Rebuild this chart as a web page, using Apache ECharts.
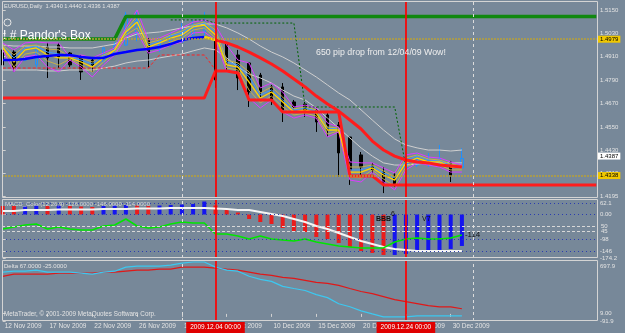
<!DOCTYPE html>
<html><head><meta charset="utf-8">
<script src="https://cdn.jsdelivr.net/npm/echarts@6/dist/echarts.min.js"></script>
<style>html,body{margin:0;padding:0;background:#778899;}#c{width:625px;height:333px;}</style>
</head><body><div id="c"></div>
<script>
const dates = ['12 Nov 2009','13 Nov 2009','15 Nov 2009','16 Nov 2009','17 Nov 2009','18 Nov 2009','19 Nov 2009','20 Nov 2009','22 Nov 2009','23 Nov 2009','24 Nov 2009','25 Nov 2009','26 Nov 2009','27 Nov 2009','29 Nov 2009','30 Nov 2009','1 Dec 2009','2 Dec 2009','3 Dec 2009','4 Dec 2009','6 Dec 2009','7 Dec 2009','8 Dec 2009','9 Dec 2009','10 Dec 2009','11 Dec 2009','13 Dec 2009','14 Dec 2009','15 Dec 2009','16 Dec 2009','17 Dec 2009','18 Dec 2009','20 Dec 2009','21 Dec 2009','22 Dec 2009','23 Dec 2009','24 Dec 2009','27 Dec 2009','28 Dec 2009','29 Dec 2009','30 Dec 2009','31 Dec 2009'];
const open  = [1.4945,1.4934,1.4893,1.4868,1.4960,1.4970,1.4929,1.4909,1.4893,1.4883,1.4929,1.4970,1.5030,1.4996,1.4945,1.4970,1.4986,1.5022,1.5037,1.4996,1.4981,1.4919,1.4878,1.4816,1.4755,1.4755,1.4678,1.4667,1.4637,1.4611,1.4560,1.4498,1.4406,1.4354,1.4318,1.4303,1.4339,1.4354,1.4354,1.4365,1.4370,1.4340];
const close = [1.4868,1.4857,1.4904,1.4960,1.4904,1.4909,1.4868,1.4832,1.4868,1.4955,1.4970,1.5124,1.5090,1.4929,1.4996,1.5022,1.5058,1.5073,1.5088,1.4791,1.4878,1.4801,1.4729,1.4729,1.4688,1.4637,1.4652,1.4626,1.4575,1.4534,1.4416,1.4329,1.4344,1.4329,1.4262,1.4252,1.4380,1.4380,1.4380,1.4390,1.4303,1.4387];
const low   = [1.4842,1.4832,1.4888,1.4857,1.4801,1.4852,1.4857,1.4791,1.4832,1.4878,1.4919,1.4965,1.4990,1.4857,1.4934,1.4960,1.4981,1.5011,1.5011,1.4750,1.4832,1.4739,1.4652,1.4703,1.4662,1.4575,1.4637,1.4601,1.4524,1.4498,1.4293,1.4252,1.4293,1.4313,1.4210,1.4241,1.4329,1.4344,1.4344,1.4344,1.4267,1.4336];
const high  = [1.4960,1.4945,1.4909,1.4970,1.4981,1.4981,1.4934,1.4919,1.4909,1.4960,1.4986,1.5140,1.5140,1.5006,1.5011,1.5037,1.5083,1.5099,1.5140,1.5006,1.4986,1.4945,1.4883,1.4827,1.4765,1.4775,1.4688,1.4678,1.4652,1.4621,1.4575,1.4498,1.4421,1.4365,1.4344,1.4313,1.4395,1.4416,1.4416,1.4457,1.4375,1.4440];

const maLine = [1.4893,1.4893,1.4898,1.4909,1.4914,1.4919,1.4919,1.4909,1.4904,1.4904,1.4924,1.4934,1.4945,1.4950,1.4960,1.4975,1.4996,1.5006,1.5011,1.4996,1.4981,1.4960,1.4934,1.4904,1.4873,1.4837,1.4796,1.4755,1.4708,1.4667,1.4631,1.4585,1.4539,1.4477,1.4431,1.4400,1.4380,1.4370,1.4365,1.4354,1.4349,1.4344];
const maTurn = 18;
const bandUpper = [1.4970,1.4965,1.4965,1.4965,1.4960,1.4960,1.4955,1.4955,1.4955,1.4965,1.4975,1.5006,1.5027,1.5032,1.5037,1.5047,1.5058,1.5068,1.5078,1.5078,1.5058,1.5032,1.5001,1.4965,1.4934,1.4909,1.4878,1.4842,1.4806,1.4765,1.4724,1.4688,1.4637,1.4585,1.4534,1.4488,1.4457,1.4442,1.4431,1.4431,1.4426,1.4431];
const bandLower = [1.4842,1.4842,1.4842,1.4842,1.4837,1.4837,1.4842,1.4842,1.4842,1.4852,1.4862,1.4878,1.4888,1.4893,1.4904,1.4914,1.4924,1.4940,1.4955,1.4945,1.4904,1.4857,1.4821,1.4801,1.4775,1.4739,1.4708,1.4688,1.4647,1.4595,1.4544,1.4493,1.4442,1.4400,1.4365,1.4354,1.4354,1.4359,1.4365,1.4365,1.4365,1.4365];
const magUpper = [1.4981,1.4945,1.4981,1.4986,1.4981,1.4981,1.4909,1.4919,1.4904,1.4929,1.4955,1.5058,1.5150,1.4996,1.5006,1.5032,1.5058,1.5088,1.5099,1.5073,1.4970,1.4893,1.4878,1.4750,1.4775,1.4729,1.4652,1.4662,1.4647,1.4570,1.4549,1.4370,1.4365,1.4365,1.4339,1.4313,1.4406,1.4416,1.4395,1.4390,1.4370,1.4354];
const magLower = [1.4945,1.4832,1.4909,1.4919,1.4857,1.4832,1.4893,1.4857,1.4806,1.4868,1.4919,1.5011,1.5037,1.4929,1.4945,1.4970,1.4986,1.5032,1.5037,1.4996,1.4832,1.4832,1.4698,1.4647,1.4688,1.4626,1.4595,1.4611,1.4595,1.4498,1.4524,1.4277,1.4267,1.4318,1.4267,1.4226,1.4329,1.4365,1.4354,1.4344,1.4318,1.4318];
const yellowLine = [1.4960,1.4883,1.4945,1.4955,1.4919,1.4904,1.4904,1.4883,1.4857,1.4904,1.4945,1.5037,1.5088,1.4960,1.4981,1.5006,1.5022,1.5063,1.5073,1.5022,1.4868,1.4857,1.4780,1.4698,1.4729,1.4678,1.4626,1.4637,1.4621,1.4534,1.4534,1.4318,1.4318,1.4339,1.4303,1.4277,1.4365,1.4390,1.4370,1.4370,1.4344,1.4339];
const oliveUpper = [1.4970,1.4919,1.4965,1.4970,1.4950,1.4945,1.4909,1.4904,1.4883,1.4919,1.4945,1.5047,1.5119,1.4981,1.4996,1.5022,1.5042,1.5073,1.5088,1.5047,1.4893,1.4878,1.4832,1.4724,1.4755,1.4703,1.4642,1.4652,1.4637,1.4549,1.4544,1.4344,1.4344,1.4354,1.4323,1.4293,1.4390,1.4406,1.4385,1.4380,1.4359,1.4349];
const oliveLower = [1.4955,1.4857,1.4924,1.4934,1.4888,1.4868,1.4898,1.4868,1.4832,1.4883,1.4929,1.5022,1.5058,1.4945,1.4960,1.4986,1.5006,1.5047,1.5058,1.5006,1.4852,1.4842,1.4739,1.4673,1.4708,1.4652,1.4611,1.4621,1.4606,1.4513,1.4529,1.4293,1.4288,1.4329,1.4282,1.4246,1.4344,1.4375,1.4359,1.4354,1.4329,1.4329];
const skyLine = [1.4965,1.4904,1.4955,1.4965,1.4934,1.4924,1.4909,1.4893,1.4873,1.4914,1.4945,1.5042,1.5104,1.4970,1.4991,1.5017,1.5032,1.5068,1.5083,1.5037,1.4883,1.4868,1.4806,1.4714,1.4739,1.4688,1.4637,1.4647,1.4631,1.4544,1.4539,1.4329,1.4329,1.4349,1.4313,1.4288,1.4380,1.4400,1.4380,1.4375,1.4354,1.4344];
const boxLow = [1.4698,1.4698,1.4698,1.4698,1.4698,1.4698,1.4698,1.4698,1.4698,1.4698,1.4698,1.4698,1.4698,1.4698,1.4698,1.4698,1.4698,1.4698,1.4698,1.4837,1.4837,1.4827,1.4688,1.4688,1.4688,1.4626,1.4626,1.4626,1.4626,1.4626,1.4626,1.4298,1.4298,1.4298,1.4252,1.4252,1.4252,1.4252,1.4252,1.4252,1.4252,1.4252,1.4252,1.4252,1.4252,1.4252,1.4252,1.4252,1.4252,1.4252,1.4252,1.4252,1.4252,1.4252];
const boxHigh = [1.5001,1.5001,1.5001,1.5001,1.5001,1.5001,1.5001,1.5001,1.5001,1.5001,1.5001,1.5117,1.5117,1.5117,1.5117,1.5117,1.5117,1.5117,1.5117,1.5117,1.5117,1.5117,1.5117,1.5117,1.5117,1.5117,1.5117,1.5117,1.5117,1.5117,1.5117,1.5117,1.5117,1.5117,1.5117,1.5117,1.5117,1.5117,1.5117,1.5117,1.5117,1.5117,1.5117,1.5117,1.5117,1.5117,1.5117,1.5117,1.5117,1.5117,1.5117,1.5117,1.5117,1.5117];
const greenTrail = [null,null,null,null,null,null,null,null,null,null,null,null,null,null,null,1.5099,1.5099,1.5099,1.5099,1.5083,1.5083,1.5083,1.5083,1.5083,1.5083,1.5083,1.5083,1.4652,1.4652,1.4652,1.4652,1.4652,1.4652,1.4652,1.4652,1.4652,1.4344];
const redTrail = [1.4852,1.4852,1.4852,1.4852,1.4852,1.4852,1.4852,1.4852,1.4852,1.4852,1.4852,1.4852,1.4852,1.4852,1.4919,1.4919,1.4919,1.4919,1.4919,1.4842];
const priceLevels = [1.4979, 1.4338];
const bidPrice = 1.4387;
const priceTicks = [1.5150,1.5030,1.4910,1.4790,1.4670,1.4550,1.4430,1.4310,1.4195];

const macdRed  = [34,34,null,null,34,null,34,32,30,null,null,null,36,34,null,null,null,null,null,36,18,8,-18,-30,-38,-54,-66,-70,-90,-98,-114,-130,-146,-154,-162,null,null,null,null,null,null,null];
const macdBlue = [null,null,32,36,null,36,null,null,null,34,36,38,null,null,36,38,40,42,52,null,null,null,null,null,null,null,null,null,null,null,null,null,null,null,null,-162,-158,-150,-150,-142,-138,-126];
const macdWhite = [14,14,18,18,18,20,20,20,20,22,22,22,24,24,24,26,26,26,26,24,22,18,18,10,2,-6,-18,-30,-46,-58,-74,-90,-106,-118,-130,-138,-142,-146,-146,-146,-146,-146];
const macdGreen = [-58,-50,-42,-38,-58,-50,-58,-62,-62,-46,-42,-18,-46,-54,-50,-38,-30,-34,-34,-78,-78,-86,-98,-86,-98,-102,-106,-98,-110,-118,-126,-130,-134,-134,-134,-110,-98,-94,-98,-98,-94,-82];
const macdGreenTag = '-114';
const macdTicks = [62.1, 0, -98, -146, -174.2];
const macdTickText = ['62.1','0.00','-98','-146','-174.2'];
const macdDotLevels = [45, 0, -98, -146];
const macdDashLevels = [-46, -68];
const macdDashText = ['50','45'];
const macdHeader = 'MACD_Color(12,26,9) -126.0000 -146.0000 -114.0000';
const macdNotes = ['BBB', '6', 'V7'];

const deltaRed  = [487,514,514,514,514,527,527,527,527,540,540,553,566,566,579,579,606,606,606,593,579,566,540,514,500,474,461,435,408,395,369,329,290,263,224,185,158,132,106,92,92,67];
const deltaCyan = [540,553,553,566,540,540,540,527,514,540,553,606,619,619,619,632,658,672,672,606,566,553,487,448,421,356,329,303,250,211,132,92,40,0,-39,-39,-39,-26,-26,-26,-26,-25];
const deltaTicks = [697.9, 9.0, -91.9];
const deltaTickText = ['697.9','9.00','-91.9'];

const timeTicks = [0,4,8,12,16,20,24,28,32,36,40];
const cursorIdx = [19, 36];
const cursorText = ['2009.12.04 00:00','2009.12.24 00:00'];
const monthIdx = [16, 42];

const FONT = 'Liberation Sans, Arial, sans-serif';
const TXT = '#e4e4e4';
const X_MIN = -0.0625, X_MAX = 53.0625;
const pts = a => a.map((v,i)=>[i,v]).filter(d=>d[1]!=null);

const chart = echarts.init(document.getElementById('c'), null, {renderer:'canvas'});

function xAxis(g, show){
  return {type:'value', gridIndex:g, min:X_MIN, max:X_MAX, show:true,
    axisLine:{show:false}, splitLine:{show:false},
    axisTick:{show:show, customValues:timeTicks, length:3, lineStyle:{color:'#d0d0d0'}},
    axisLabel:{show:show, customValues:timeTicks, formatter:v=>dates[v]||'', align:'left', margin:2,
      color:TXT, fontSize:6.5, fontFamily:FONT, padding:[0,0,0,2]}};
}
const rich = {
  dn:{fontSize:6, fontFamily:FONT, color:TXT, padding:[8,0,0,0]},
  dn2:{fontSize:6, fontFamily:FONT, color:TXT, padding:[13,0,0,0]}
};
function yAxis(g, min, max, ticks, fmt){
  return {type:'value', gridIndex:g, position:'right', min:min, max:max,
    axisLine:{show:false}, splitLine:{show:false},
    axisTick:{show:true, customValues:ticks, length:3, lineStyle:{color:'#d0d0d0'}},
    axisLabel:{customValues:ticks, formatter:fmt, margin:3, color:TXT, fontSize:6, fontFamily:FONT, rich:rich,
      showMinLabel:true, showMaxLabel:true, hideOverlap:false}};
}
const line = (data, color, width, extra) => Object.assign({type:'line', data:data, symbol:'none',
  lineStyle:{color:color, width:width}, itemStyle:{color:color}, animation:false, silent:true}, extra||{});

const vLines = (withLabel) => cursorIdx.map((c,k)=>({xAxis:c, lineStyle:{color:'#ff0000', width:1.7, type:'solid', opacity:1},
    label: withLabel ? {show:true, position:'start', formatter:cursorText[k], color:'#ffffff', backgroundColor:'#e00000',
      fontSize:6.5, fontFamily:FONT, padding:[2,4,2,4], distance:1} : {show:false}}))
  .concat(monthIdx.map(m=>({xAxis:m, lineStyle:{color:'#dcdcdc', width:1, type:[3,3]}, label:{show:false}})));

const option = {
  backgroundColor:'#778899',
  animation:false,
  grid:[
    {left:2, right:28, top:1, height:196},
    {left:2, right:28, top:199, height:59},
    {left:2, right:28, top:260, height:61}
  ],
  xAxis:[xAxis(0,false), xAxis(1,false), xAxis(2,true)],
  yAxis:[
    yAxis(0, 1.41899, 1.51962, priceTicks, v=>v.toFixed(4)),
    yAxis(1, -174.2, 62.1, macdTicks, v=>{const k=macdTicks.indexOf(v), t=macdTickText[k];
      return k===0 ? '{dn|'+t+'}' : t;}),
    yAxis(2, -91.9, 697.9, deltaTicks, v=>{const k=deltaTicks.indexOf(v), t=deltaTickText[k];
      return k===0 ? '{dn2|'+t+'}' : t;})
  ],
  series:[
    line(pts(bandUpper), '#cfcfcf', 1),
    line(pts(bandLower), '#cfcfcf', 1),
    line(pts(skyLine), '#3c9cff', 1),
    line(pts(oliveUpper), '#c8b048', 1),
    line(pts(oliveLower), '#c8b048', 1),
    line(pts(magUpper), '#dd3cff', 1),
    line(pts(magLower), '#dd3cff', 1),
    line(pts(yellowLine), '#ffd400', 1.3),
    line(pts(redTrail), '#ff2020', 1, {lineStyle:{color:'#ff2020', width:1, type:[3,2]}}),
    line(pts(greenTrail), '#006400', 1, {lineStyle:{color:'#006400', width:1, type:[2,2]}}),
    {type:'candlestick', data:open.map((o,i)=>[i,o,close[i],low[i],high[i]]), barWidth:3, animation:false, silent:true,
      itemStyle:{color:'rgba(0,0,0,0)', color0:'#000000', borderColor:'#1e90ff', borderColor0:'#000000', borderWidth:1},
      markLine:{silent:true, symbol:['none','none'], animation:false,
        data: priceLevels.map(p=>({yAxis:p, lineStyle:{color:'#b8a038', width:1.5, type:[2,1]},
            label:{show:true, position:'end', formatter:p.toFixed(4), color:'#000', backgroundColor:'#f0c800',
              fontSize:6, fontFamily:FONT, padding:[1,2,0,2], distance:1}}))
          .concat([{yAxis:bidPrice, lineStyle:{color:'rgba(0,0,0,0)', width:0},
            label:{show:true, position:'end', formatter:bidPrice.toFixed(4), color:'#000', backgroundColor:'#ffffff',
              fontSize:6, fontFamily:FONT, padding:[1,2,0,2], distance:1}}])
          .concat(vLines(false))}},
    line(pts(maLine.slice(0, maTurn+1)), '#0000ff', 2.5),
    line([[maTurn, maLine[maTurn]],[maTurn+1, maLine[maTurn+1]]], '#ffd400', 2.5),
    line(pts(maLine).slice(maTurn+1), '#ff1c1c', 3),
    line(pts(boxLow), '#ff1c1c', 3),
    line(pts(boxHigh), '#10880f', 3.5),

    {type:'bar', xAxisIndex:1, yAxisIndex:1, data:pts(macdRed), barWidth:4, itemStyle:{color:'#ea1c1c'}, animation:false, silent:true},
    {type:'bar', xAxisIndex:1, yAxisIndex:1, data:pts(macdBlue), barWidth:4, barGap:'-100%', itemStyle:{color:'#1414f0'}, animation:false, silent:true},
    line(pts(macdWhite), '#f4f4f4', 2, {xAxisIndex:1, yAxisIndex:1,
      markLine:{silent:true, symbol:['none','none'], animation:false,
        data: macdDotLevels.map(v=>({yAxis:v, lineStyle:{color:'#2a3cb0', width:1, type:[1,3]}, label:{show:false}}))
          .concat(macdDashLevels.map((v,k)=>({yAxis:v, lineStyle:{color:'#d8d8d8', width:1, type:[3,2]},
            label:{show:true, position:'end', formatter:macdDashText[k], color:TXT, fontSize:6, fontFamily:FONT, distance:4}})))
          .concat(vLines(false))}}),
    line(pts(macdGreen), '#00e600', 1.5, {xAxisIndex:1, yAxisIndex:1,
      endLabel:{show:true, formatter:macdGreenTag, color:'#111', fontSize:8, fontFamily:FONT, distance:3}}),

    line(pts(deltaRed), '#e01818', 1.2, {xAxisIndex:2, yAxisIndex:2,
      markLine:{silent:true, symbol:['none','none'], animation:false, data: vLines(true)}}),
    line(pts(deltaCyan), '#3cc8f0', 1.2, {xAxisIndex:2, yAxisIndex:2})
  ],
  graphic:[
    {type:'rect', silent:true, z:100, shape:{x:2.5,y:1.5,width:595,height:196}, style:{fill:'none', stroke:'#d4d4d4', lineWidth:1}},
    {type:'rect', silent:true, z:100, shape:{x:2.5,y:199.5,width:595,height:58}, style:{fill:'none', stroke:'#d4d4d4', lineWidth:1}},
    {type:'rect', silent:true, z:100, shape:{x:2.5,y:260.5,width:595,height:60}, style:{fill:'none', stroke:'#d4d4d4', lineWidth:1}},
    {type:'text', silent:true, z:100, x:4, y:3, style:{text:'EURUSD,Daily  '+open[41].toFixed(4)+' '+high[41].toFixed(4)+' '+low[41].toFixed(4)+' '+close[41].toFixed(4), fill:TXT, font:'5.7px '+FONT}},
    {type:'circle', silent:true, z:100, shape:{cx:7.5, cy:22.5, r:3.5}, style:{fill:'none', stroke:'#e8e8e8', lineWidth:1}},
    {type:'text', silent:true, z:100, x:3, y:30, style:{text:"! # Pandor's Box", fill:'#ffffff', font:'12px '+FONT}},
    {type:'text', silent:true, z:100, x:316, y:48, style:{text:'650 pip drop from 12/04/09 Wow!', fill:'#eeeeee', font:'8.8px '+FONT}},
    {type:'text', silent:true, z:100, x:5, y:201, style:{text:macdHeader, fill:'#d8d8d8', font:'6px '+FONT}},
    {type:'text', silent:true, z:100, x:376, y:216, style:{text:macdNotes[0], fill:'#111111', font:'bold 7px '+FONT}},
    {type:'text', silent:true, z:100, x:391, y:211, style:{text:macdNotes[1], fill:'#111111', font:'7px '+FONT}},
    {type:'text', silent:true, z:100, x:422, y:216, style:{text:macdNotes[2], fill:'#111111', font:'7px '+FONT}},
    {type:'text', silent:true, z:100, x:4, y:263, style:{text:'Delta '+deltaRed[41].toFixed(4)+' '+deltaCyan[41].toFixed(4), fill:TXT, font:'6px '+FONT}},
    {type:'text', silent:true, z:100, x:4, y:311, style:{text:'MetaTrader, \u00a9 2001-2009 MetaQuotes Software Corp.', fill:TXT, font:'6.3px '+FONT}}
  ]
};
chart.setOption(option);
</script></body></html>
